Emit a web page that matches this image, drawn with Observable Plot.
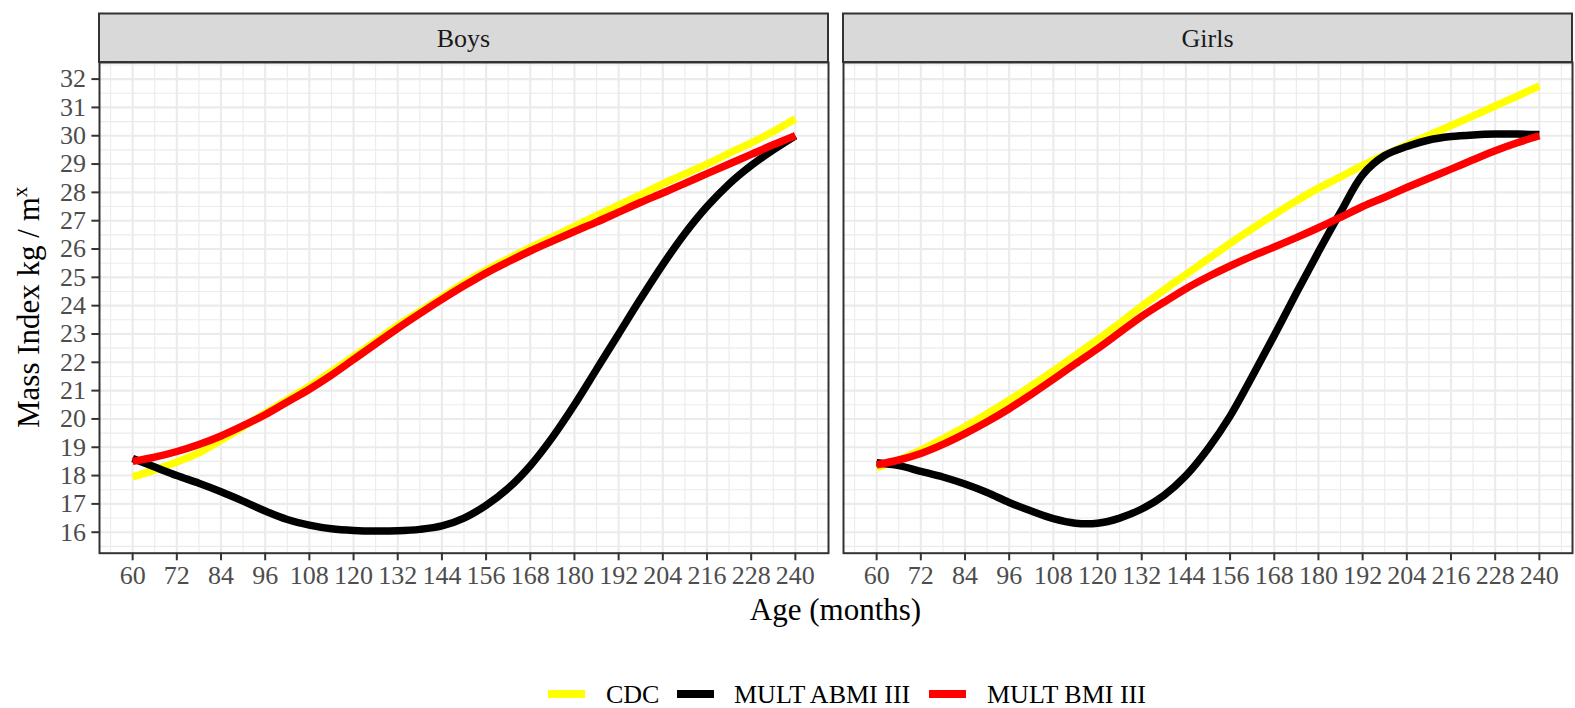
<!DOCTYPE html>
<html>
<head>
<meta charset="utf-8">
<script src="https://cdn.jsdelivr.net/npm/d3@7"></script>
<script src="https://cdn.jsdelivr.net/npm/@observablehq/plot@0.6"></script>
<style>
  html, body { margin: 0; padding: 0; background: white; }
  body { position: relative; width: 1575px; height: 708px; overflow: hidden; font-family: "Liberation Serif", serif; }
  .key { position: absolute; height: 7.5px; width: 37px; }
  .ltext { position: absolute; font-size: 26px; line-height: 26px; white-space: nowrap; color: #000; }
</style>
</head>
<body>
<div id="chart"></div>
<script>
const sexes = ["Boys", "Girls"];
const seriesNames = ["CDC", "MULT ABMI III", "MULT BMI III"];
const seriesColors = ["#ffff00", "#000000", "#ff0000"];
const ages = [60,66,72,78,84,90,96,102,108,114,120,126,132,138,144,150,156,162,168,174,180,186,192,198,204,210,216,222,228,234,240];

const boysCDC  = [17.95,18.2,18.48,18.8,19.25,19.72,20.2,20.68,21.15,21.67,22.2,22.75,23.3,23.8,24.3,24.8,25.25,25.65,26.05,26.42,26.8,27.18,27.55,27.92,28.3,28.65,29.0,29.38,29.75,30.15,30.6];
const boysABMI = [18.6,18.3,18.0,17.73,17.43,17.1,16.75,16.45,16.25,16.12,16.06,16.04,16.05,16.1,16.22,16.5,16.95,17.55,18.35,19.35,20.5,21.75,23.0,24.25,25.45,26.55,27.5,28.3,28.95,29.5,30.0];
const boysBMI  = [18.5,18.65,18.85,19.1,19.4,19.76,20.15,20.6,21.05,21.55,22.1,22.65,23.2,23.72,24.22,24.7,25.15,25.55,25.93,26.28,26.62,26.95,27.3,27.65,27.98,28.32,28.66,29.0,29.34,29.68,30.0];
const girlsCDC  = [18.28,18.55,18.9,19.3,19.72,20.18,20.66,21.17,21.7,22.25,22.8,23.38,23.98,24.55,25.1,25.65,26.2,26.72,27.22,27.7,28.15,28.55,28.95,29.32,29.68,30.02,30.36,30.7,31.05,31.4,31.76];
const girlsABMI = [18.45,18.35,18.15,17.95,17.7,17.4,17.05,16.75,16.48,16.32,16.32,16.5,16.82,17.3,18.0,18.95,20.1,21.5,22.95,24.45,25.9,27.3,28.62,29.3,29.62,29.85,29.97,30.03,30.06,30.06,30.04];
const girlsBMI  = [18.38,18.55,18.78,19.1,19.48,19.9,20.36,20.87,21.4,21.95,22.48,23.05,23.62,24.12,24.6,25.02,25.4,25.75,26.07,26.4,26.75,27.12,27.5,27.83,28.17,28.5,28.82,29.15,29.47,29.75,30.0];

const xMajor = [60,72,84,96,108,120,132,144,156,168,180,192,204,216,228,240];
const xMinor = [54,66,78,90,102,114,126,138,150,162,174,186,198,210,222,234,246];
const yMajor = [16,17,18,19,20,21,22,23,24,25,26,27,28,29,30,31,32];
const yMinor = [15.5,16.5,17.5,18.5,19.5,20.5,21.5,22.5,23.5,24.5,25.5,26.5,27.5,28.5,29.5,30.5,31.5,32.5];

const xTitle = "Age (months)";
const yTitle = "Mass Index kg / m";
const ySup = "x";

const table = [
  ["Boys", "CDC", boysCDC], ["Boys", "MULT ABMI III", boysABMI], ["Boys", "MULT BMI III", boysBMI],
  ["Girls", "CDC", girlsCDC], ["Girls", "MULT ABMI III", girlsABMI], ["Girls", "MULT BMI III", girlsBMI]
];
const rows = [];
for (const [sex, series, vals] of table) {
  vals.forEach((v, i) => rows.push({sex, series, age: ages[i], value: v}));
}

const W = 1575, H = 640, mL = 98.5, mR = 3, mT = 62, mB = 87.3;
const gridColor = "#ebebeb";

const chart = Plot.plot({
  width: W, height: H,
  marginLeft: mL, marginRight: mR, marginTop: mT, marginBottom: mB,
  style: {fontFamily: "Liberation Serif", fontSize: "26px", background: "white", overflow: "visible"},
  fx: {domain: sexes, paddingInner: 0.0202, paddingOuter: 0, axis: null, label: null},
  x: {domain: [51, 249], label: null},
  y: {domain: [15.259, 32.586], label: null},
  color: {domain: seriesNames, range: seriesColors},
  marks: [
    Plot.ruleX(xMinor, {stroke: gridColor, strokeWidth: 1.1}),
    Plot.ruleY(yMinor, {stroke: gridColor, strokeWidth: 1.1}),
    Plot.ruleX(xMajor, {stroke: gridColor, strokeWidth: 2.1}),
    Plot.ruleY(yMajor, {stroke: gridColor, strokeWidth: 2.1}),
    Plot.line(rows, {fx: "sex", x: "age", y: "value", z: "series", stroke: "series",
      strokeWidth: 7.5, curve: "catmull-rom", strokeLinecap: "butt", strokeLinejoin: "round"}),
    Plot.frame({stroke: "#333333", strokeWidth: 2}),
    Plot.axisX({ticks: xMajor, tickSize: 7.6, tickPadding: 5, tickFormat: d => String(d),
      stroke: "#333333", strokeWidth: 2, fill: "#4d4d4d", label: null, fontSize: 26}),
    Plot.axisY({ticks: yMajor, tickSize: 7.6, tickPadding: 6, tickFormat: d => String(d),
      stroke: "#333333", strokeWidth: 2, fill: "#4d4d4d", label: null, fontSize: 26})
  ]
});

document.getElementById("chart").appendChild(chart);

// strips from the facet scale
const svg = d3.select(chart);
const fxs = chart.scale("fx");
const bw = fxs.bandwidth;
const stripTop = 13.5, stripBottom = mT;
const strips = svg.append("g");
for (const s of sexes) {
  const x0 = fxs.apply(s);
  strips.append("rect")
    .attr("x", x0).attr("y", stripTop)
    .attr("width", bw).attr("height", stripBottom - stripTop)
    .attr("fill", "#d9d9d9").attr("stroke", "#333333").attr("stroke-width", 2);
  strips.append("text")
    .attr("x", x0 + bw / 2).attr("y", (stripTop + stripBottom) / 2 + 1)
    .attr("text-anchor", "middle").attr("dominant-baseline", "central")
    .attr("font-family", "Liberation Serif").attr("font-size", 26)
    .attr("fill", "#1a1a1a").text(s);
}

// axis titles
const panelsLeft = fxs.apply(sexes[0]);
const panelsRight = fxs.apply(sexes[1]) + bw;
svg.append("text")
  .attr("x", (panelsLeft + panelsRight) / 2).attr("y", 620)
  .attr("text-anchor", "middle").attr("font-family", "Liberation Serif")
  .attr("font-size", 31).attr("fill", "#000").text(xTitle);

const yt = svg.append("text")
  .attr("transform", `translate(39,${(mT + (H - mB)) / 2}) rotate(-90)`)
  .attr("text-anchor", "middle").attr("font-family", "Liberation Serif")
  .attr("font-size", 31).attr("fill", "#000");
yt.append("tspan").text(yTitle);
yt.append("tspan").attr("dy", "-0.55em").attr("font-size", 21).text(ySup);

// legend
const legendItems = [
  {name: seriesNames[0], color: seriesColors[0], key: 548, text: 606},
  {name: seriesNames[1], color: seriesColors[1], key: 677, text: 734},
  {name: seriesNames[2], color: seriesColors[2], key: 929, text: 987}
];
for (const it of legendItems) {
  const k = document.createElement("div");
  k.className = "key";
  k.style.left = it.key + "px";
  k.style.top = "690.3px";
  k.style.background = it.color;
  document.body.appendChild(k);
  const t = document.createElement("div");
  t.className = "ltext";
  t.style.left = it.text + "px";
  t.style.top = "681.8px";
  t.textContent = it.name;
  document.body.appendChild(t);
}
</script>
</body>
</html>
